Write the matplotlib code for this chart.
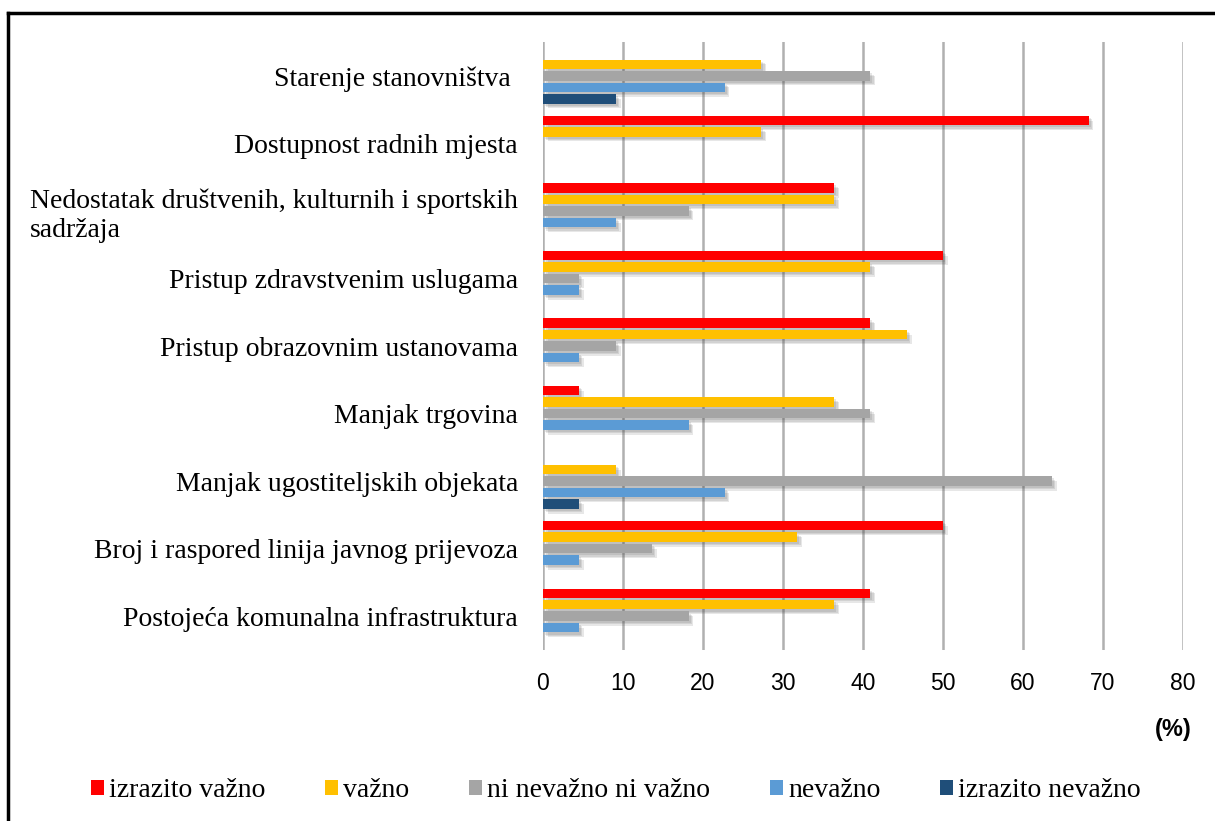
import numpy as np
import matplotlib.pyplot as plt
import matplotlib.patheffects as pe
from matplotlib.lines import Line2D
from matplotlib.patches import Patch

categories = [
    "Starenje stanovništva ",
    "Dostupnost radnih mjesta",
    "Nedostatak društvenih, kulturnih i sportskih\nsadržaja",
    "Pristup zdravstvenim uslugama",
    "Pristup obrazovnim ustanovama",
    "Manjak trgovina",
    "Manjak ugostiteljskih objekata",
    "Broj i raspored linija javnog prijevoza",
    "Postojeća komunalna infrastruktura",
]
series_names = ["izrazito važno", "važno", "ni nevažno ni važno", "nevažno", "izrazito nevažno"]
colors = ["#FF0000", "#FFC000", "#A5A5A5", "#5B9BD5", "#1F4E79"]

izrazito_vazno = [0, 68.2, 36.4, 50.0, 40.9, 4.5, 0, 50.0, 40.9]
vazno = [27.3, 27.3, 36.4, 40.9, 45.5, 36.4, 9.1, 31.8, 36.4]
ni_ni = [40.9, 0, 18.2, 4.5, 9.1, 40.9, 63.6, 13.6, 18.2]
nevazno = [22.7, 0, 9.1, 4.5, 4.5, 18.2, 22.7, 4.5, 4.5]
izrazito_nevazno = [9.1, 0, 0, 0, 0, 0, 4.5, 0, 0]
series = [izrazito_vazno, vazno, ni_ni, nevazno, izrazito_nevazno]

fig = plt.figure(figsize=(12.15, 8.21), dpi=100)
ax = fig.add_axes([0.4469, 0.2083, 0.5268, 0.7405])

y = np.arange(len(categories))
pitch = 0.17
# soft drop shadow built from a few offset copies
shadow = [pe.SimplePatchShadow(offset=(d, -d), shadow_rgbFace="#404040", alpha=0.12)
          for d in (1.5, 2.5, 3.5)] + [pe.Normal()]
for i, (vals, c) in enumerate(zip(series, colors)):
    bars = ax.barh(y + (i - 2) * pitch, vals, height=0.14, color=c, zorder=3)
    for b in bars:
        if b.get_width() > 0:
            b.set_path_effects(shadow)

ax.set_xlim(0, 80)
ax.set_ylim(len(categories) - 0.5, -0.5)
ax.set_xticks(range(0, 81, 10))
ax.set_yticks(y)
ax.set_yticklabels(categories, fontfamily="Liberation Serif", fontsize=20, multialignment="left")
ax.tick_params(axis="both", length=0)
ax.tick_params(axis="y", pad=18)
ax.tick_params(axis="x", pad=16)
for lab in ax.get_xticklabels():
    lab.set_fontfamily("Liberation Sans")
    lab.set_fontsize(16.5)
ax.grid(axis="x", color="#B0B0B0", linewidth=1.8, zorder=0)
ax.grid(axis="y", visible=False)
for s in ax.spines.values():
    s.set_visible(False)

fig.text(0.9654, 0.112, "(%)", fontfamily="Liberation Sans", fontweight="bold", fontsize=17,
         ha="center", va="center")

handles = [Patch(facecolor=c, label=n) for n, c in zip(series_names, colors)]
fig.legend(handles=handles, loc="center", bbox_to_anchor=(0.507, 0.037), ncol=5, frameon=False,
           prop={"family": "Liberation Serif", "size": 20}, handlelength=0.45,
           handleheight=0.45, handletextpad=0.2, columnspacing=2.15)

# border around the chart area (top and left edges visible)
fig.add_artist(Line2D([0.0066, 1.0], [0.9842, 0.9842], color="black", linewidth=2.5,
                      transform=fig.transFigure))
fig.add_artist(Line2D([0.0066, 0.0066], [0.0, 0.9842], color="black", linewidth=2.5,
                      transform=fig.transFigure))

fig.savefig("out.png", dpi=100)
